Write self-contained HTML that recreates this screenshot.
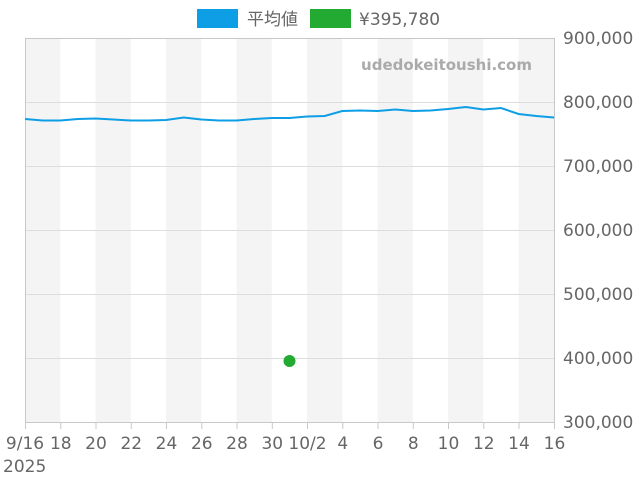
<!DOCTYPE html>
<html><head><meta charset="utf-8"><style>
html,body{margin:0;padding:0;background:#fff;}
svg{display:block;font-family:"DejaVu Sans","Noto Sans CJK JP",sans-serif;}
</style></head><body>
<svg width="640" height="480" viewBox="0 0 640 480">
<g fill="#f4f4f4">
<rect x="25" y="38" width="35.3" height="384"/>
<rect x="95.5" y="38" width="35.3" height="384"/>
<rect x="166" y="38" width="35.3" height="384"/>
<rect x="236.5" y="38" width="35.3" height="384"/>
<rect x="307" y="38" width="35.3" height="384"/>
<rect x="377.5" y="38" width="35.3" height="384"/>
<rect x="448" y="38" width="35.3" height="384"/>
<rect x="518.5" y="38" width="35.5" height="384"/>
</g>
<g stroke="#dddddd" stroke-width="1">
<line x1="25" y1="102.5" x2="554" y2="102.5"/>
<line x1="25" y1="166.5" x2="554" y2="166.5"/>
<line x1="25" y1="230.5" x2="554" y2="230.5"/>
<line x1="25" y1="294.5" x2="554" y2="294.5"/>
<line x1="25" y1="358.5" x2="554" y2="358.5"/>
</g>
<rect x="25.5" y="38.5" width="529" height="384" fill="none" stroke="#c8c8c8"/>
<g stroke="#c8c8c8">
<line x1="25.5" y1="422" x2="25.5" y2="429"/><line x1="60.8" y1="422" x2="60.8" y2="429"/>
<line x1="96" y1="422" x2="96" y2="429"/><line x1="131.3" y1="422" x2="131.3" y2="429"/>
<line x1="166.5" y1="422" x2="166.5" y2="429"/><line x1="201.8" y1="422" x2="201.8" y2="429"/>
<line x1="237" y1="422" x2="237" y2="429"/><line x1="272.3" y1="422" x2="272.3" y2="429"/>
<line x1="307.5" y1="422" x2="307.5" y2="429"/><line x1="342.8" y1="422" x2="342.8" y2="429"/>
<line x1="378" y1="422" x2="378" y2="429"/><line x1="413.3" y1="422" x2="413.3" y2="429"/>
<line x1="448.5" y1="422" x2="448.5" y2="429"/><line x1="483.8" y1="422" x2="483.8" y2="429"/>
<line x1="519" y1="422" x2="519" y2="429"/><line x1="554.5" y1="422" x2="554.5" y2="429"/>
</g>
<text x="532" y="70" text-anchor="end" font-size="15" font-weight="bold" fill="#aaaaaa">udedokeitoushi.com</text>
<polyline fill="none" stroke="#0d9ee6" stroke-width="2" points="25,119 42.6,120.5 60.3,120.5 77.9,119 95.5,118.5 113.2,119.5 130.8,120.5 148.4,120.5 166,120 183.7,117.5 201.3,119.5 218.9,120.5 236.6,120.5 254.2,119 271.8,118 289.5,118 307.1,116.5 324.7,116 342.3,111 360,110.5 377.6,111 395.2,109.5 412.9,111 430.5,110.5 448.1,109 465.8,107 483.4,109.5 501,108 518.6,114 536.3,116 554,117.5"/>
<circle cx="289.5" cy="361" r="6" fill="#22aa33"/>
<g font-size="17" fill="#666">
<text x="563" y="44">900,000</text>
<text x="563" y="108">800,000</text>
<text x="563" y="172">700,000</text>
<text x="563" y="236">600,000</text>
<text x="563" y="300">500,000</text>
<text x="563" y="364">400,000</text>
<text x="563" y="428">300,000</text>
<g text-anchor="middle">
<text x="25" y="449">9/16</text><text x="60.8" y="449">18</text>
<text x="96" y="449">20</text><text x="131.3" y="449">22</text>
<text x="166.5" y="449">24</text><text x="201.8" y="449">26</text>
<text x="237" y="449">28</text><text x="272.3" y="449">30</text>
<text x="307.5" y="449">10/2</text><text x="342.8" y="449">4</text>
<text x="378" y="449">6</text><text x="413.3" y="449">8</text>
<text x="448.5" y="449">10</text><text x="483.8" y="449">12</text>
<text x="519" y="449">14</text><text x="554.5" y="449">16</text>
</g>
<text x="3" y="472">2025</text>
<rect x="197" y="9" width="41" height="19" fill="#0d9ee6"/>
<text x="247" y="25">平均値</text>
<rect x="310" y="9" width="41" height="19" fill="#22aa33"/>
<text x="359" y="25">¥395,780</text>
</g>
</svg>
</body></html>
